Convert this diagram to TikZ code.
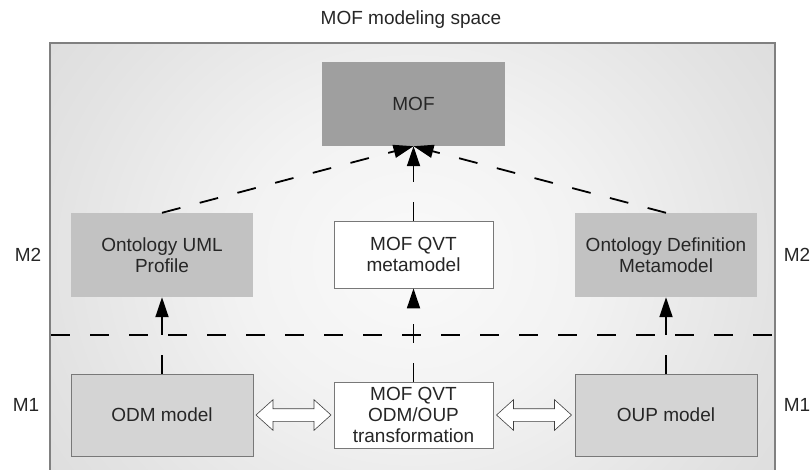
\documentclass[tikz,border=0pt]{standalone}
\usepackage{fontspec}
\setmainfont{Liberation Sans}
\usetikzlibrary{arrows.meta,shapes.arrows,calc}

% soft glow for the modeling space
\pgfdeclareradialshading{spaceshade}{\pgfpoint{0bp}{0bp}}{%
  rgb(0bp)=(0.98,0.98,0.98); rgb(12bp)=(0.95,0.95,0.95);
  rgb(25bp)=(0.89,0.89,0.89); rgb(38bp)=(0.84,0.84,0.84);
  rgb(50bp)=(0.80,0.80,0.80); rgb(80bp)=(0.79,0.79,0.79)}

\begin{document}
\begin{tikzpicture}[x=1pt,y=-1pt,
    every node/.style={font=\fontsize{19}{21}\selectfont, text=black!85, align=center},
    mofbox/.style={fill=mofgray, minimum width=183pt, minimum height=84pt, inner sep=0pt},
    pkgbox/.style={fill=pkggray, minimum width=182pt, minimum height=84pt, inner sep=0pt},
    qvtbox/.style={fill=white, draw=edgegray, line width=0.8pt, minimum width=159pt, minimum height=66pt, inner sep=0pt},
    modelbox/.style={fill=modelgray, draw=edgegray, line width=0.8pt, minimum width=182pt, minimum height=82pt, inner sep=0pt},
    link/.style={line width=1.8pt, dash pattern=on 19pt off 20pt, -{Triangle[length=20pt,width=13pt]}},
    level/.style={line width=1.8pt, dash pattern=on 19pt off 20pt},
    twoway/.style={double arrow, draw=black!75, fill=white, line width=0.6pt, inner sep=6pt,
      minimum height=75pt, double arrow head extend=9pt, double arrow tip angle=84}]
    % Define colors
    \definecolor{mofgray}{RGB}{159,159,159}
    \definecolor{pkggray}{RGB}{194,194,194}
    \definecolor{modelgray}{RGB}{212,212,212}
    \definecolor{edgegray}{RGB}{120,120,120}

    \clip (0,0) rectangle (810,469);

    % Draw background
    \begin{scope}
        \clip (50,43) rectangle (775,480);
        \shade[shading=spaceshade] (50,-60) rectangle (775,580);
    \end{scope}
    \draw[black!50, line width=1.5pt] (50,480) -- (50,43) -- (775,43) -- (775,480);
    \node (title) at (411,20) {MOF modeling space};

    % M2 level
    \node[mofbox] (mof) at (413.5,104) {MOF};
    \node[pkgbox] (profile) at (162,255) {Ontology UML\\Profile};
    \node[qvtbox, minimum height=67pt] (meta) at (413.5,254.5) {MOF QVT\\metamodel};
    \node[pkgbox] (odmm) at (666,255) {Ontology Definition\\Metamodel};

    % M1 level
    \node[modelbox] (odm) at (162,415) {ODM model};
    \node[qvtbox] (trans) at (413.5,415) {MOF QVT\\ODM/OUP\\transformation};
    \node[modelbox] (oup) at (666,415) {OUP model};

    % Level names
    \node (m2l) at (28,255) {M2};
    \node (m2r) at (797,255) {M2};
    \node (m1l) at (26,405) {M1};
    \node (m1r) at (797,405) {M1};

    % Level border
    \coordinate (divl) at (51,335);
    \coordinate (divr) at (775,335);
    \draw[level] (divl) -- (divr);

    % Instance-of links
    \draw[link] (profile.north) -- (mof.south);
    \draw[link] (meta.north) -- (mof.south);
    \draw[link] (odmm.north) -- (mof.south);
    \draw[link] (odm.north) -- (profile.south);
    \draw[link] (trans.north) -- (meta.south);
    \draw[link] (oup.north) -- (odmm.south);

    % Transformation in both directions
    \node[twoway] (swapl) at ($(odm.east)!0.5!(trans.west)$) {};
    \node[twoway] (swapr) at ($(trans.east)!0.5!(oup.west)$) {};
\end{tikzpicture}
\end{document}
